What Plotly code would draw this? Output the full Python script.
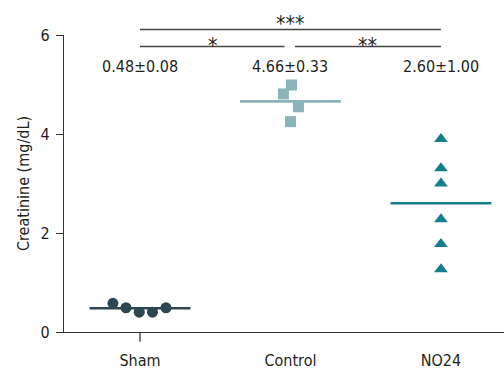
import plotly.graph_objects as go

groups = ["Sham", "Control", "NO24"]
group_pos = [0, 1, 2]
sham_vals = [0.58, 0.49, 0.40, 0.40, 0.49]
sham_jit = [-0.18, -0.093, -0.005, 0.083, 0.173]
control_vals = [4.99, 4.81, 4.55, 4.25]
control_jit = [0.007, -0.047, 0.053, 0.0]
no24_vals = [3.90, 3.31, 3.00, 2.28, 1.78, 1.27]
no24_jit = [0, 0, 0, 0, 0, 0]
means = [0.48, 4.66, 2.60]
labels = ["0.48±0.08", "4.66±0.33", "2.60±1.00"]
colors = ["#2d4750", "#8ab4b9", "#147e8a"]
symbols = ["circle", "square", "triangle-up"]
sig_text = ["***", "*", "**"]
sig_start = [0, 0, 1.03]
sig_end = [2, 0.96, 2]
sig_line_y = [6.11, 5.77, 5.77]
sig_text_y = [6.22, 5.78, 5.78]

FONT = "DejaVu Sans Condensed, sans-serif"
TXT = "#231f20"

fig = go.Figure()
series = [sham_vals, control_vals, no24_vals]
jits = [sham_jit, control_jit, no24_jit]
sizes = [11, 11, 12]
for i in range(3):
    fig.add_trace(go.Scatter(
        x=[group_pos[i] - 0.335, group_pos[i] + 0.335], y=[means[i], means[i]],
        mode="lines", line=dict(color=colors[i], width=2.6),
        showlegend=False, hoverinfo="skip"))
    fig.add_trace(go.Scatter(
        x=[group_pos[i] + j for j in jits[i]], y=series[i], mode="markers",
        marker=dict(symbol=symbols[i], color=colors[i], size=sizes[i], line=dict(width=0)),
        cliponaxis=False, showlegend=False, hoverinfo="skip"))

ymax = 6
for i in range(3):
    fig.add_annotation(x=group_pos[i], y=5.37 / ymax, xref="x", yref="paper", text=labels[i],
                       showarrow=False, yanchor="middle", xanchor="center",
                       font=dict(size=16, color=TXT, family=FONT))

for i in range(3):
    a, b = sig_start[i], sig_end[i]
    fig.add_shape(type="line", xref="x", yref="paper", x0=a, x1=b,
                  y0=sig_line_y[i] / ymax, y1=sig_line_y[i] / ymax,
                  line=dict(color="#444444", width=1.5))
    fig.add_annotation(x=(a + b) / 2, y=sig_text_y[i] / ymax, xref="x", yref="paper",
                       text=sig_text[i], showarrow=False, yanchor="middle", xanchor="center",
                       font=dict(size=21, color=TXT, family=FONT))

# single tick under Sham
fig.add_shape(type="line", xref="x", yref="paper", x0=0, x1=0, y0=0, y1=-10 / 301,
              line=dict(color="#333333", width=1.3))

fig.update_layout(
    width=504, height=370, margin=dict(l=64, r=0, t=35, b=34),
    paper_bgcolor="white", plot_bgcolor="white",
    font=dict(family=FONT, color=TXT, size=16),
    xaxis=dict(range=[-0.505, 2.419], tickvals=group_pos, ticktext=groups,
               showline=True, linecolor="#333333", linewidth=1.3, ticks="",
               showgrid=False, zeroline=False, ticklabelstandoff=14,
               tickfont=dict(size=16, family=FONT, color=TXT)),
    yaxis=dict(range=[0, 6], tickvals=[0, 2, 4, 6], showline=True,
               linecolor="#333333", linewidth=1.3, ticks="outside", ticklen=7,
               tickcolor="#333333", tickwidth=1.3, showgrid=False, zeroline=False,
               ticklabelstandoff=3,
               tickfont=dict(size=16, family=FONT, color=TXT),
               title=dict(text="Creatinine (mg/dL)", standoff=6,
                          font=dict(size=16, family=FONT, color=TXT))),
)

fig.write_html("out.html")
